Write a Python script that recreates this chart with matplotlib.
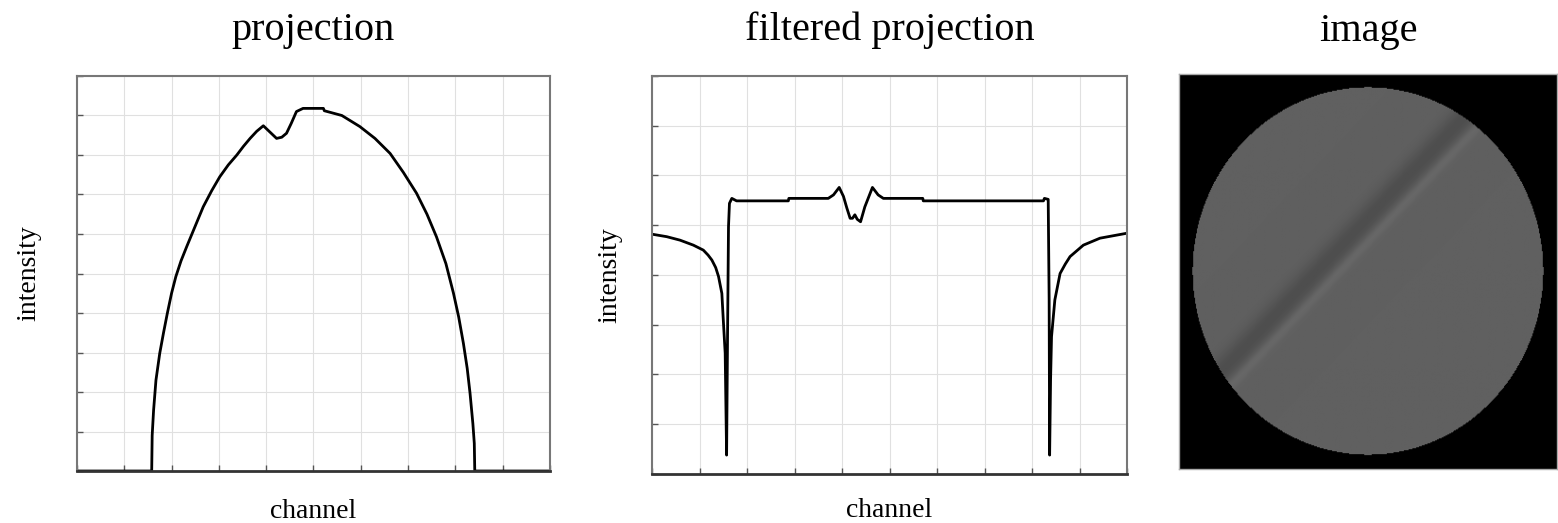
import numpy as np
import matplotlib
matplotlib.use("Agg")
from matplotlib import pyplot as plt

plt.rcParams['font.family'] = ['Liberation Serif', 'DejaVu Serif']

# projection (grid units 0..10)
proj_x = [0.0, 1.58, 1.59, 1.62, 1.67, 1.75, 1.83, 1.91, 2.0, 2.09, 2.2, 2.32, 2.5, 2.67,
          2.85, 3.02, 3.2, 3.38, 3.52, 3.66, 3.8, 3.94, 4.08, 4.22, 4.33, 4.43, 4.53, 4.64,
          4.78, 5.21, 5.23, 5.6, 5.98, 6.3, 6.62, 6.9, 7.18, 7.4, 7.6, 7.8, 7.96, 8.07,
          8.17, 8.25, 8.31, 8.37, 8.40, 8.41, 10.0]
proj_y = [0.0, 0.0, 0.9, 1.54, 2.3, 2.98, 3.5, 3.99, 4.5, 4.92, 5.32, 5.68, 6.2, 6.69,
          7.1, 7.45, 7.75, 8.0, 8.22, 8.42, 8.6, 8.74, 8.58, 8.42, 8.45, 8.55, 8.8, 9.1,
          9.18, 9.18, 9.12, 9.0, 8.72, 8.42, 8.04, 7.56, 7.03, 6.5, 5.93, 5.25, 4.5, 3.9,
          3.23, 2.6, 1.97, 1.2, 0.7, 0.0, 0.0]

# filtered projection (grid units 0..10 x 0..8)
filt_x = [0.0, 0.31, 0.59, 0.87, 1.08, 1.18, 1.26, 1.34, 1.40, 1.47, 1.50, 1.54, 1.555,
          1.57, 1.59, 1.61, 1.63, 1.68, 1.78, 2.87, 2.88, 3.71, 3.82, 3.94, 4.03, 4.10,
          4.17, 4.22, 4.27, 4.32, 4.39, 4.48, 4.64, 4.76, 4.87, 5.70, 5.71, 8.24, 8.26,
          8.34, 8.36, 8.37, 8.39, 8.41, 8.48, 8.59, 8.70, 8.80, 9.08, 9.43, 10.0]
filt_y = [4.82, 4.77, 4.70, 4.60, 4.50, 4.40, 4.30, 4.15, 3.97, 3.63, 3.10, 2.43, 1.4,
          0.38, 2.8, 4.97, 5.44, 5.54, 5.49, 5.49, 5.54, 5.54, 5.61, 5.76, 5.58, 5.35,
          5.14, 5.14, 5.21, 5.12, 5.07, 5.37, 5.76, 5.61, 5.54, 5.54, 5.49, 5.49, 5.54,
          5.52, 3.5, 0.38, 1.9, 2.76, 3.50, 4.03, 4.22, 4.37, 4.60, 4.74, 4.84]

# reconstructed image parameters
img_n = 400
disk_r = 0.93
disk_gray = 0.375
band_d = 0.19        # offset of band from centre (perpendicular)
band_dark = -0.07
band_sig = 0.045
stripe_d = -0.085
stripe_amp = 0.03
stripe_sig = 0.018

fig = plt.figure(figsize=(15.58, 5.23), dpi=100)

grid_c = '#e0e0e0'
spine_c = '#777777'


def style(ax, ny, lpad):
    ax.set_xticks(np.arange(0, 11))
    ax.set_yticks(np.arange(0, ny + 1))
    ax.set_xticklabels([])
    ax.set_yticklabels([])
    ax.tick_params(direction='in', length=4, width=1, color='#555555')
    ax.grid(True, color=grid_c, lw=0.8)
    for s in ax.spines.values():
        s.set_color(spine_c)
        s.set_linewidth(1.5)
    ax.spines['bottom'].set_color('#333333')
    ax.spines['bottom'].set_linewidth(2)
    ax.set_xlabel('channel', fontsize=20, labelpad=lpad)
    ax.set_ylabel('intensity', fontsize=20, labelpad=22)


ax1 = fig.add_axes([0.0494, 0.0994, 0.3036, 0.7553])
ax1.plot(proj_x, proj_y, color='black', lw=2)
ax1.set_xlim(0, 10)
ax1.set_ylim(0, 10)
style(ax1, 10, 17)
ax1.set_title('projection', fontsize=29, pad=26)

ax2 = fig.add_axes([0.4185, 0.0937, 0.3049, 0.761])
ax2.plot(filt_x, filt_y, color='black', lw=2)
ax2.set_xlim(0, 10)
ax2.set_ylim(0, 8)
style(ax2, 8, 14)
ax2.set_ylabel('intensity', fontsize=20, labelpad=18)
ax2.set_title('filtered projection', fontsize=29, pad=26)

# image
u = np.linspace(-1, 1, img_n)
U, V = np.meshgrid(u, -u)
R = np.sqrt(U ** 2 + V ** 2)
D = (V - U) / np.sqrt(2)
img = np.full(U.shape, disk_gray)
img += band_dark * np.exp(-((D - band_d) ** 2) / (2 * band_sig ** 2))
img += stripe_amp * np.exp(-((D - band_d - stripe_d) ** 2) / (2 * stripe_sig ** 2))
img += 0.4 * stripe_amp * np.exp(-((D - band_d + 0.08) ** 2) / (2 * stripe_sig ** 2))
img[R > disk_r] = 0.0

ax3 = fig.add_axes([0.7567, 0.1033, 0.2426, 0.7553])
ax3.imshow(img, cmap='gray', vmin=0, vmax=1, extent=[-1, 1, -1, 1], aspect='auto',
           interpolation='bilinear')
ax3.set_xticks([])
ax3.set_yticks([])
for s in ax3.spines.values():
    s.set_color('#aaaaaa')
    s.set_linewidth(1)
ax3.set_title('image', fontsize=29, pad=24)

fig.savefig('out.png', dpi=100)
